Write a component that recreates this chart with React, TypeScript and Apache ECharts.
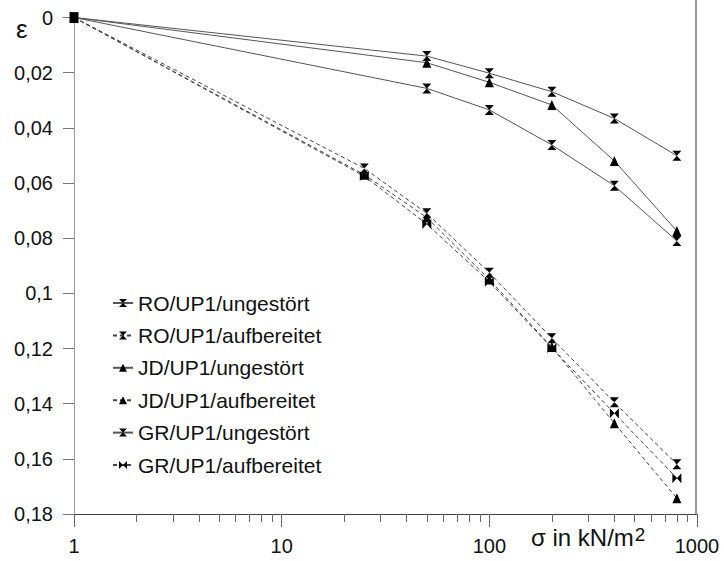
import React, { useEffect, useRef } from "react";
import * as echarts from "echarts";

const FONT = "Liberation Sans, Arial, Helvetica, sans-serif";

// x positions (σ in kN/m²)
const xUngestoert = [1, 50, 100, 200, 400, 800];
const xAufbereitet = [1, 25, 50, 100, 200, 400, 800];

// ε values
const roUngestoert = [0, 0.014, 0.0202, 0.0269, 0.0366, 0.0501];
const roAufbereitet = [0, 0.0547, 0.071, 0.0925, 0.1163, 0.1395, 0.162];
const jdUngestoert = [0, 0.0164, 0.0235, 0.0317, 0.052, 0.0774];
const jdAufbereitet = [0, 0.057, 0.0725, 0.095, 0.1195, 0.1471, 0.1743];
const grUngestoert = [0, 0.0257, 0.0335, 0.0462, 0.061, 0.081];
const grAufbereitet = [0, 0.0575, 0.0749, 0.0958, 0.1198, 0.1435, 0.167];

const seriesNames = [
  "RO/UP1/ungestört",
  "RO/UP1/aufbereitet",
  "JD/UP1/ungestört",
  "JD/UP1/aufbereitet",
  "GR/UP1/ungestört",
  "GR/UP1/aufbereitet",
];

const minorTickValues = [2, 3, 4, 5, 6, 7, 8, 9, 20, 30, 40, 50, 60, 70, 80, 90, 200, 300, 400, 500, 600, 700, 800, 900];

const HOURGLASS = "path://M0,0L10,0L0,10L10,10Z";
const BOWTIE = "path://M0,0L0,10L10,0L10,10Z";
const TRIANGLE = "triangle";

function pairs(xs: number[], ys: number[]) {
  return xs.map((x, i) => [x, ys[i]]);
}

export default function App() {
  const ref = useRef<HTMLDivElement>(null);
  useEffect(() => {
    if (!ref.current) return;
    const chart = echarts.init(ref.current, undefined, { renderer: "svg" });
    const mk = (name: string, xs: number[], ys: number[], symbol: string, dashed: boolean) => ({
      name,
      type: "line",
      xAxisIndex: 0,
      data: pairs(xs, ys),
      symbol,
      symbolSize: [9, 10],
      showSymbol: true,
      itemStyle: { color: "#000" },
      lineStyle: {
        color: dashed ? "#444" : "#555",
        width: 1,
        type: dashed ? [4, 3] : "solid",
      },
      z: 3,
    });
    chart.setOption({
      animation: false,
      backgroundColor: "#fff",
      grid: { left: 74, right: 27, top: 17.5, bottom: 47, containLabel: false },
      legend: {
        orient: "vertical",
        left: 107,
        top: 287,
        itemWidth: 20,
        itemHeight: 10,
        itemGap: 10.4,
        data: seriesNames,
        textStyle: { fontSize: 21, color: "#111", fontFamily: FONT, lineHeight: 22 },
      },
      xAxis: [
        {
          type: "log",
          logBase: 10,
          min: 1,
          max: 1000,
          axisLine: { onZero: false, lineStyle: { color: "#444", width: 1 } },
          axisTick: { show: true, length: 13, lineStyle: { color: "#666" } },
          axisLabel: {
            fontSize: 20,
            color: "#111",
            fontFamily: FONT,
            margin: 22,
            formatter: (v: number) => String(Math.round(v)),
          },
          splitLine: { show: false },
          minorTick: { show: false },
        },
        {
          type: "value",
          min: 0,
          max: 3,
          show: true,
          position: "bottom",
          axisLine: { show: false, onZero: false },
          axisLabel: { show: false },
          splitLine: { show: false },
          axisTick: {
            show: true,
            length: 8,
            lineStyle: { color: "#666" },
            customValues: minorTickValues.map((v) => Math.log10(v)),
          },
        },
      ],
      yAxis: {
        type: "value",
        inverse: true,
        min: 0,
        max: 0.18,
        interval: 0.02,
        axisLine: { show: true, lineStyle: { color: "#999", width: 1 } },
        axisTick: { show: true, length: 11, lineStyle: { color: "#777" } },
        axisLabel: {
          fontSize: 20,
          color: "#111",
          fontFamily: FONT,
          margin: 21,
          formatter: (v: number) => String(+v.toFixed(2)).replace(".", ","),
        },
        splitLine: { show: false },
      },
      graphic: [
        {
          type: "line",
          shape: { x1: 696, y1: 0, x2: 696, y2: 514 },
          style: { stroke: "#999", lineWidth: 2 },
        },
        {
          type: "text",
          left: 16,
          top: 16,
          style: { text: "ε", fontSize: 26, fill: "#111", fontFamily: FONT },
        },
        {
          type: "text",
          left: 531,
          top: 525,
          style: {
            text: "{a|σ in kN/m}{b|2}",
            fill: "#111",
            rich: {
              a: { fontSize: 24, fontFamily: FONT, fill: "#111" },
              b: { fontSize: 19, fontFamily: FONT, fill: "#111", verticalAlign: "top", padding: [0, 0, 0, 1] },
            },
          },
        },
      ],
      series: [
        mk(seriesNames[0], xUngestoert, roUngestoert, HOURGLASS, false),
        mk(seriesNames[1], xAufbereitet, roAufbereitet, HOURGLASS, true),
        mk(seriesNames[2], xUngestoert, jdUngestoert, TRIANGLE, false),
        mk(seriesNames[3], xAufbereitet, jdAufbereitet, TRIANGLE, true),
        mk(seriesNames[4], xUngestoert, grUngestoert, HOURGLASS, false),
        mk(seriesNames[5], xAufbereitet, grAufbereitet, BOWTIE, true),
      ],
    });
    return () => chart.dispose();
  }, []);
  return <div ref={ref} style={{ width: 724, height: 561, position: "absolute", left: 0, top: 0 }} />;
}
